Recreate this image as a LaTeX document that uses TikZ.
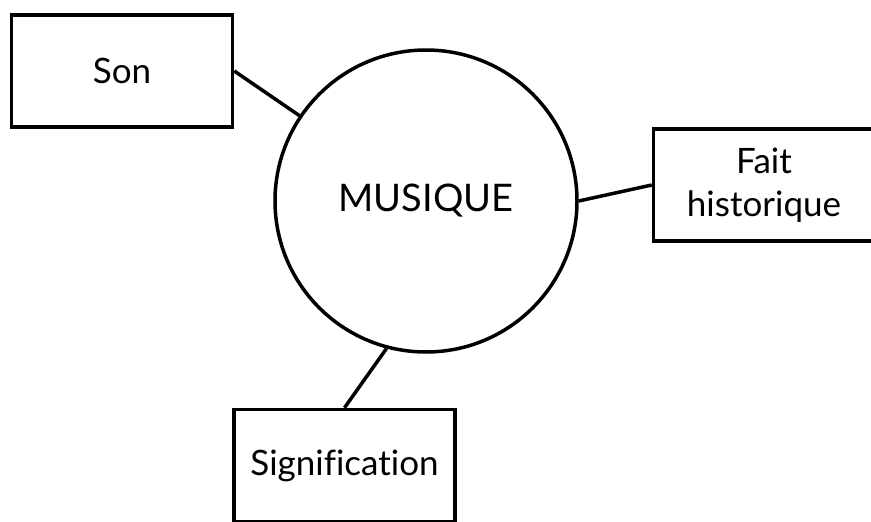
\documentclass[tikz,border=0pt]{standalone}
\usepackage{fontspec}
\setmainfont{Lato}[Ligatures=CommonOff]
\usepackage{tikz}
\usetikzlibrary{positioning}

\begin{document}
\begin{tikzpicture}[
            x=1pt, y=-1pt,
            every node/.style={font=\fontsize{35}{43}\selectfont},
            box/.style={
                draw,
                line width=3.5pt,
                minimum width=221pt,
                minimum height=112pt,
                inner sep=0pt,
                align=center
  },
  hub/.style={
    draw,
    circle,
    line width=3.5pt,
    minimum size=302pt,
    inner sep=0pt,
    font=\fontsize{38}{44}\selectfont
  },
  link/.style={
    line width=3.5pt
  }
]
\useasboundingbox (0,0) rectangle (871,522);
\clip (0,0) rectangle (871,522);

% Circle
\node [hub] (musique) at (426,201) {MUSIQUE};

% Boxes
\node [box] (son) at (122,71) {Son};
\node [box] (fait) at (764,185) {Fait\\historique};
\node [box] (signification) at (344.5,465.5) {Signification};

% Links
\draw [link] (son.east) -- (musique.146);
\draw [link] (fait.west) -- (musique.0);
\draw [link] (signification.north) -- (musique.255);

\end{tikzpicture}
\end{document}
